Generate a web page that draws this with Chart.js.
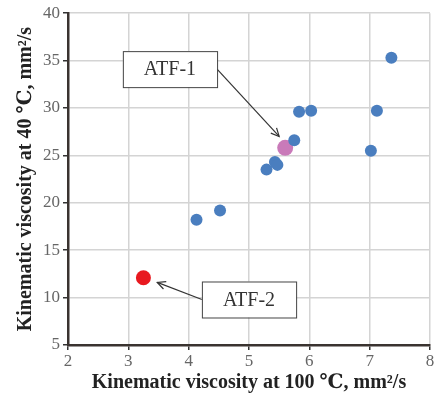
<!DOCTYPE html>
<html lang="en">
<head>
    <meta charset="UTF-8">
    <title>Kinematic viscosity</title>
    <script src="https://cdn.jsdelivr.net/npm/chart.js"></script>
    <style>
        body { margin: 0; background: #fff; }
        #wrap { width: 438px; height: 399px; }
    </style>
</head>
<body>
    <div id="wrap"><canvas id="myChart"></canvas></div>
    <script>
        // data
        const oilsX = [4.13, 4.52, 5.29, 5.43, 5.47, 5.75, 5.83, 6.03, 7.12, 7.02, 7.36];
        const oilsY = [18.2, 19.2, 23.5, 24.3, 24.0, 26.6, 29.6, 29.7, 29.7, 25.5, 35.3];
        const atf1 = [5.60, 25.8];
        const atf2 = [3.25, 12.1];
        // callout labels: text, box centre (data units), target point
        const callouts = [
            { text: 'ATF-1', box: [3.69, 34.1], to: [5.50, 27.0] },
            { text: 'ATF-2', box: [5.00, 9.8], to: [3.48, 11.6] }
        ];

        const serif = '"Liberation Serif", "DejaVu Serif", serif';

        // draws the label boxes and arrows
        const calloutPlugin = {
            id: 'callouts',
            afterDatasetsDraw(chart) {
                const ctx = chart.ctx;
                const xs = chart.scales.x, ys = chart.scales.y;
                ctx.save();
                ctx.font = '20px ' + serif;
                callouts.forEach(c => {
                    const cx = xs.getPixelForValue(c.box[0]);
                    const cy = ys.getPixelForValue(c.box[1]);
                    const w = ctx.measureText(c.text).width + 42;
                    const h = 36;
                    const tx = xs.getPixelForValue(c.to[0]);
                    const ty = ys.getPixelForValue(c.to[1]);
                    // start of arrow at box edge
                    const sx = tx > cx ? cx + w / 2 : cx - w / 2;
                    const sy = cy;
                    ctx.strokeStyle = '#333';
                    ctx.lineWidth = 1.2;
                    ctx.beginPath();
                    ctx.moveTo(sx, sy);
                    ctx.lineTo(tx, ty);
                    ctx.stroke();
                    const a = Math.atan2(ty - sy, tx - sx);
                    ctx.beginPath();
                    ctx.moveTo(tx - 9 * Math.cos(a - 0.45), ty - 9 * Math.sin(a - 0.45));
                    ctx.lineTo(tx, ty);
                    ctx.lineTo(tx - 9 * Math.cos(a + 0.45), ty - 9 * Math.sin(a + 0.45));
                    ctx.stroke();
                    ctx.fillStyle = '#fff';
                    ctx.fillRect(cx - w / 2, cy - h / 2, w, h);
                    ctx.strokeStyle = '#444';
                    ctx.lineWidth = 1;
                    ctx.strokeRect(cx - w / 2 + 0.5, cy - h / 2 + 0.5, w, h);
                    ctx.fillStyle = '#333';
                    ctx.textAlign = 'center';
                    ctx.textBaseline = 'middle';
                    ctx.fillText(c.text, cx, cy + 1);
                });
                ctx.restore();
            }
        };

        const ctx = document.getElementById('myChart').getContext('2d');
        const myChart = new Chart(ctx, {
            type: 'scatter',
            data: {
                datasets: [{
                    label: 'Oils',
                    data: oilsX.map((x, i) => ({ x: x, y: oilsY[i] })),
                    backgroundColor: '#4a7ebf',
                    borderWidth: 0,
                    pointRadius: 6
                }, {
                    label: 'ATF-1',
                    data: [{ x: atf1[0], y: atf1[1] }],
                    backgroundColor: '#c97ab9',
                    borderWidth: 0,
                    pointRadius: 8
                }, {
                    label: 'ATF-2',
                    data: [{ x: atf2[0], y: atf2[1] }],
                    backgroundColor: '#e8191f',
                    borderWidth: 0,
                    pointRadius: 7.5
                }]
            },
            options: {
                responsive: true,
                maintainAspectRatio: false,
                animation: false,
                layout: { padding: { top: 12, right: 5 } },
                plugins: {
                    legend: { display: false },
                    tooltip: { enabled: false }
                },
                scales: {
                    x: {
                        min: 2, max: 8,
                        ticks: { stepSize: 1, color: '#666', font: { family: serif, size: 17 }, padding: 1 },
                        grid: { color: '#d4d4d4', lineWidth: 1.5, tickLength: 5, tickColor: '#333' },
                        border: { color: '#3a3330', width: 2.5 },
                        title: {
                            display: true,
                            text: 'Kinematic viscosity at 100 \u2103, mm\u00b2/s',
                            color: '#222',
                            font: { family: serif, size: 20, weight: 'bold' },
                            padding: { top: 0, bottom: 4 }
                        },
                        afterFit(scale) { scale.height = 54; }
                    },
                    y: {
                        min: 5, max: 40,
                        ticks: { stepSize: 5, color: '#666', font: { family: serif, size: 17 }, padding: 3 },
                        grid: { color: '#d4d4d4', lineWidth: 1.5, tickLength: 5, tickColor: '#333' },
                        border: { color: '#3a3330', width: 2.5 },
                        title: {
                            display: true,
                            text: 'Kinematic viscosity at 40 \u2103, mm\u00b2/s',
                            color: '#222',
                            font: { family: serif, size: 20, weight: 'bold' },
                            padding: { top: 14, bottom: 0 }
                        },
                        afterFit(scale) { scale.width = 68; }
                    }
                }
            },
            plugins: [calloutPlugin]
        });
    </script>
</body>
</html>
